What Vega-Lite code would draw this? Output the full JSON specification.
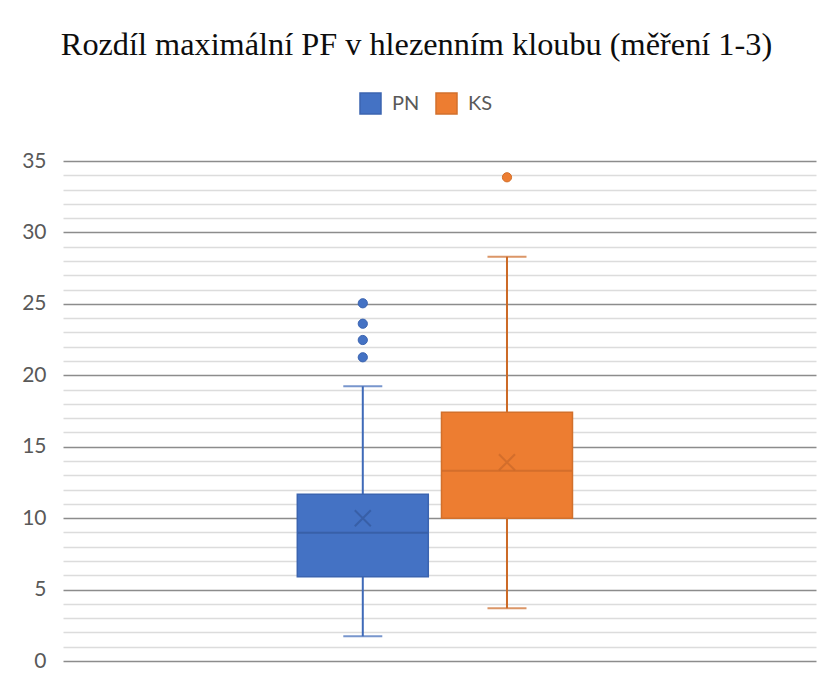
{
  "$schema": "https://vega.github.io/schema/vega-lite/v6.json",
  "width": 753,
  "height": 500,
  "autosize": {"type": "none"},
  "padding": {"left": 63, "top": 161, "right": 6, "bottom": 23},
  "background": "#ffffff",
  "title": {
    "text": "Rozdíl maximální PF v hlezenním kloubu (měření 1-3)",
    "font": "Liberation Serif",
    "fontSize": 32.3,
    "fontWeight": "normal",
    "color": "#0d0d0d",
    "anchor": "middle",
    "frame": "group",
    "dx": -23,
    "offset": 31
  },
  "config": {
    "view": {"stroke": null},
    "legend": {
      "orient": "none",
      "legendX": 296,
      "legendY": -69,
      "direction": "horizontal",
      "title": null,
      "symbolType": "square",
      "symbolSize": 441,
      "symbolStrokeWidth": 1.5,
      "labelFont": "Lato",
      "labelFontSize": 20,
      "labelColor": "#595959",
      "labelOffset": 10,
      "columnPadding": 13
    }
  },
  "data": {
    "values": [
      {"group": "PN", "lower": 1.73, "q1": 5.9, "median": 8.98, "q3": 11.67, "upper": 19.23, "mean": 9.99},
      {"group": "KS", "lower": 3.69, "q1": 9.99, "median": 13.32, "q3": 17.41, "upper": 28.3, "mean": 13.91}
    ]
  },
  "resolve": {"axis": {"y": "independent"}},
  "layer": [
    {
      "mark": {"type": "rule", "strokeWidth": 2},
      "encoding": {
        "x": {"field": "group", "type": "nominal", "scale": {"type": "point", "domain": ["l2", "l1", "PN", "KS", "r1", "r2"], "padding": 0.111, "align": 0.356}, "axis": null},
        "y": {"field": "lower", "type": "quantitative", "scale": {"domain": [0, 35], "nice": false, "zero": true},
          "axis": {"orient": "left", "values": [1,2,3,4,6,7,8,9,11,12,13,14,16,17,18,19,21,22,23,24,26,27,28,29,31,32,33,34], "grid": true, "gridColor": "#DCDCDC", "gridWidth": 1.5, "labels": false, "ticks": false, "domain": false, "title": null}},
        "y2": {"field": "upper"},
        "color": {"condition": {"test": "datum.group === 'PN'", "value": "#3F6AB8"}, "value": "#CC6A26"}
      }
    },
    {
      "mark": {"type": "tick", "thickness": 2, "size": 39},
      "encoding": {
        "x": {"field": "group", "type": "nominal", "axis": null},
        "y": {"field": "lower", "type": "quantitative", "axis": null},
        "color": {"condition": {"test": "datum.group === 'PN'", "value": "#3F6AB8"}, "value": "#CC6A26"}
      }
    },
    {
      "mark": {"type": "tick", "thickness": 2, "size": 39},
      "encoding": {
        "x": {"field": "group", "type": "nominal", "axis": null},
        "y": {"field": "upper", "type": "quantitative", "axis": null},
        "color": {"condition": {"test": "datum.group === 'PN'", "value": "#3F6AB8"}, "value": "#CC6A26"}
      }
    },
    {
      "mark": {"type": "bar", "size": 131, "strokeWidth": 1.5},
      "encoding": {
        "x": {"field": "group", "type": "nominal", "axis": null},
        "y": {"field": "q1", "type": "quantitative",
          "axis": {"orient": "left", "values": [0,5,10,15,20,25,30,35], "grid": true, "gridColor": "#8C8C8C", "gridWidth": 1.5, "domain": false, "ticks": false, "labelFont": "Lato", "labelFontSize": 21, "labelColor": "#595959", "labelPadding": 17, "title": null}},
        "y2": {"field": "q3"},
        "fill": {"field": "group", "type": "nominal", "sort": ["PN", "KS"], "scale": {"domain": ["PN", "KS"], "range": ["#4472C4", "#ED7D31"]}},
        "stroke": {"field": "group", "type": "nominal", "sort": ["PN", "KS"], "scale": {"domain": ["PN", "KS"], "range": ["#3B64B0", "#D2702C"]}}
      }
    },
    {
      "mark": {"type": "tick", "thickness": 2, "size": 130},
      "encoding": {
        "x": {"field": "group", "type": "nominal", "axis": null},
        "y": {"field": "median", "type": "quantitative", "axis": null},
        "color": {"condition": {"test": "datum.group === 'PN'", "value": "#33589C"}, "value": "#C9682A"}
      }
    },
    {
      "mark": {"type": "point", "shape": "M-1,-1L1,1M1,-1L-1,1", "filled": false, "size": 256, "strokeWidth": 2},
      "encoding": {
        "x": {"field": "group", "type": "nominal", "axis": null},
        "y": {"field": "mean", "type": "quantitative", "axis": null},
        "color": {"condition": {"test": "datum.group === 'PN'", "value": "#33589C"}, "value": "#C9682A"}
      }
    },
    {
      "data": {
        "values": [
          {"group": "PN", "value": 21.26},
          {"group": "PN", "value": 22.47},
          {"group": "PN", "value": 23.61},
          {"group": "PN", "value": 25.04},
          {"group": "KS", "value": 33.86}
        ]
      },
      "mark": {"type": "circle", "size": 85, "opacity": 1, "strokeWidth": 1},
      "encoding": {
        "x": {"field": "group", "type": "nominal", "axis": null},
        "y": {"field": "value", "type": "quantitative", "axis": null},
        "color": {"condition": {"test": "datum.group === 'PN'", "value": "#4472C4"}, "value": "#ED7D31"},
        "stroke": {"condition": {"test": "datum.group === 'PN'", "value": "#3B64B0"}, "value": "#D2702C"}
      }
    }
  ]
}
